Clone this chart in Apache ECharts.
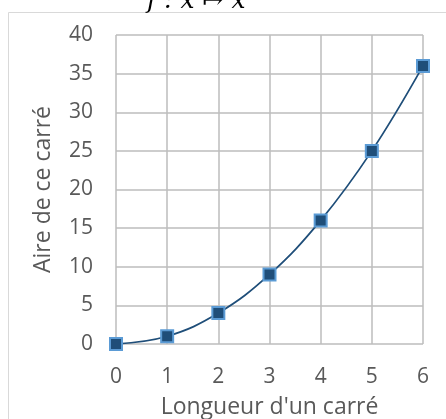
<!DOCTYPE html>
<html>
<head>
<meta charset="utf-8">
<script src="https://cdn.jsdelivr.net/npm/echarts@6/dist/echarts.min.js"></script>
<style>
html,body{margin:0;padding:0;background:#fff;}
#chart{width:446px;height:419px;}
</style>
</head>
<body>
<div id="chart"></div>
<script>
// Side length of the square and its area
const longueurs = [0, 1, 2, 3, 4, 5, 6];
const aires = [0, 1, 4, 9, 16, 25, 36];
const yTicks = { min: 0, max: 40, step: 5 };
const xTicks = { min: 0, max: 6, step: 1 };

const points = longueurs.map((x, i) => [x, aires[i]]);
const labelColor = '#595959';
const gridColor = '#bcbcbc';
const font = 'Open Sans, Noto Sans, sans-serif';

const chart = echarts.init(document.getElementById('chart'), null, { renderer: 'canvas' });
chart.setOption({
  animation: false,
  backgroundColor: '#fff',
  graphic: [
    {
      type: 'rect',
      shape: { x: 8.5, y: 12.5, width: 600, height: 600 },
      style: { fill: 'none', stroke: '#d9d9d9', lineWidth: 1 },
      z: -1
    },
    {
      type: 'text',
      x: 147, y: 14,
      style: {
        text: 'f : x ↦ x²',
        font: 'italic 25px "DejaVu Serif", serif',
        fill: '#000',
        textVerticalAlign: 'bottom'
      }
    }
  ],
  grid: { left: 116, right: 23, top: 35, bottom: 75, outerBoundsMode: 'none', containLabel: false },
  xAxis: {
    type: 'value',
    min: xTicks.min, max: xTicks.max, interval: xTicks.step,
    name: "Longueur d'un carré",
    nameLocation: 'middle',
    nameGap: 52,
    nameTextStyle: { color: labelColor, fontSize: 23, fontFamily: font },
    axisLine: { show: false },
    axisTick: { show: false },
    axisLabel: { color: labelColor, fontSize: 21, fontFamily: font, margin: 23 },
    splitLine: { show: true, lineStyle: { color: gridColor, width: 1.5 } }
  },
  yAxis: {
    type: 'value',
    min: yTicks.min, max: yTicks.max, interval: yTicks.step,
    name: 'Aire de ce carré',
    nameLocation: 'middle',
    nameGap: 61,
    nameTextStyle: { color: labelColor, fontSize: 23, fontFamily: font },
    axisLine: { show: false },
    axisTick: { show: false },
    axisLabel: { color: labelColor, fontSize: 21, fontFamily: font, margin: 23 },
    splitLine: { show: true, lineStyle: { color: gridColor, width: 1.5 } }
  },
  series: [{
    type: 'line',
    data: points,
    smooth: 0.4,
    symbol: 'rect',
    symbolSize: 12,
    lineStyle: { color: '#1f4e79', width: 1.75 },
    itemStyle: { color: '#1f4e79', borderColor: '#5b9bd5', borderWidth: 2 },
    z: 3
  }]
});
</script>
</body>
</html>
